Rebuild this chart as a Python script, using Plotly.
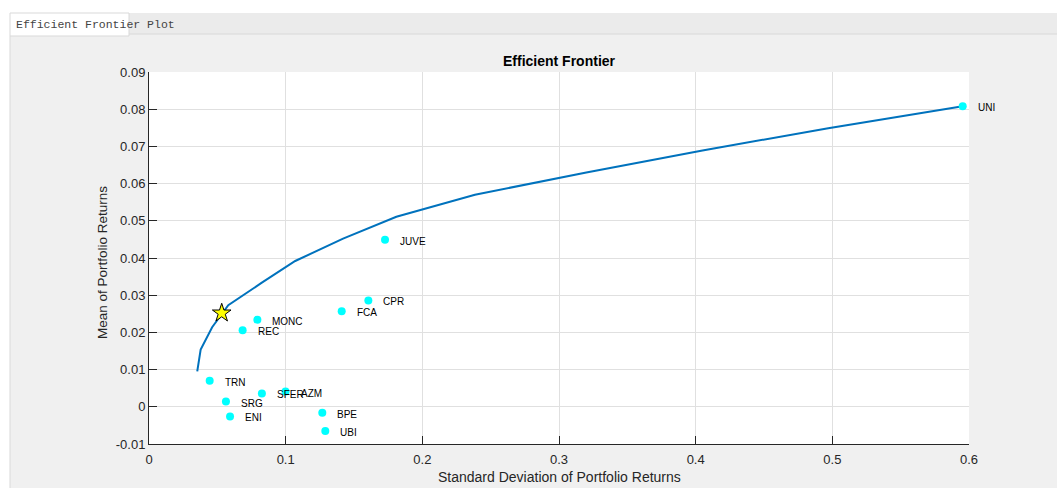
import plotly.graph_objects as go

# Asset statistics: standard deviation and mean of returns
assets = ["UNI", "JUVE", "CPR", "FCA", "MONC", "REC", "TRN", "SFER", "AZM", "SRG", "ENI", "BPE", "UBI"]
asset_risk = [0.5954, 0.1727, 0.1605, 0.1410, 0.0793, 0.0685, 0.0444, 0.0826, 0.0999, 0.0563, 0.0593, 0.1268, 0.1290]
asset_return = [0.0808, 0.0449, 0.0286, 0.0257, 0.0234, 0.0206, 0.0070, 0.0036, 0.0041, 0.0014, -0.0026, -0.0016, -0.0065]

# Efficient frontier portfolios
frontier_risk = [0.0353, 0.0378, 0.0462, 0.0580, 0.0823, 0.1070, 0.1420, 0.1810, 0.2385, 0.3200, 0.4050, 0.4970, 0.5954]
frontier_return = [0.0095, 0.0154, 0.0214, 0.0273, 0.0333, 0.0392, 0.0452, 0.0511, 0.0570, 0.0630, 0.0689, 0.0749, 0.0808]

# Highlighted portfolio
chosen_risk = [0.0532]
chosen_return = [0.0252]

x_ticks = [0, 0.1, 0.2, 0.3, 0.4, 0.5, 0.6]
x_tick_labels = ["0", "0.1", "0.2", "0.3", "0.4", "0.5", "0.6"]
y_ticks = [-0.01, 0, 0.01, 0.02, 0.03, 0.04, 0.05, 0.06, 0.07, 0.08, 0.09]
y_tick_labels = ["-0.01", "0", "0.01", "0.02", "0.03", "0.04", "0.05", "0.06", "0.07", "0.08", "0.09"]

W, H = 1057, 488
L, R, T, B = 149, 969, 72, 444  # plot area in pixels
PW, PH = R - L, B - T


def px(x):
    return (x - L) / PW


def py(y):
    return (B - y) / PH


FONT = "Arial, Liberation Sans, Helvetica, sans-serif"
AX = "#262626"

fig = go.Figure()

fig.add_trace(go.Scatter(
    x=frontier_risk, y=frontier_return, mode="lines",
    line=dict(color="#0072BD", width=2), hoverinfo="skip", showlegend=False,
))
fig.add_trace(go.Scatter(
    x=asset_risk, y=asset_return, mode="markers",
    marker=dict(color="#00FFFF", size=8, line=dict(width=0)),
    showlegend=False, cliponaxis=False,
))
fig.add_trace(go.Scatter(
    x=chosen_risk, y=chosen_return, mode="markers",
    marker=dict(symbol="star", color="#FFFF00", size=14, line=dict(color="black", width=1)),
    showlegend=False,
))

annotations = []
for name, xr, yr in zip(assets, asset_risk, asset_return):
    annotations.append(dict(
        x=xr, y=yr, xref="x", yref="y", text=name, showarrow=False,
        xanchor="left", yanchor="middle", xshift=13, yshift=-1.5,
        font=dict(family=FONT, size=10, color="#000000"),
    ))

annotations += [
    dict(x=0.5, y=py(61), xref="paper", yref="paper", text="<b>Efficient Frontier</b>",
         showarrow=False, xanchor="center", yanchor="middle",
         font=dict(family=FONT, size=14, color="#000000")),
    dict(x=0.5, y=py(477), xref="paper", yref="paper", text="Standard Deviation of Portfolio Returns",
         showarrow=False, xanchor="center", yanchor="middle",
         font=dict(family=FONT, size=14, color=AX)),
    dict(x=px(102), y=py(263), xref="paper", yref="paper", text="Mean of Portfolio Returns",
         showarrow=False, xanchor="center", yanchor="middle", textangle=-90,
         font=dict(family=FONT, size=13.5, color=AX)),
    dict(x=px(14), y=py(25), xref="paper", yref="paper", text="Efficient Frontier Plot",
         showarrow=False, xanchor="left", yanchor="middle",
         font=dict(family="Liberation Mono, Courier New, monospace", size=11.5, color="#444444")),
]

shapes = [
    # white strip along the top and left of the window
    dict(type="rect", xref="paper", yref="paper", x0=px(0), x1=px(W), y0=py(0), y1=py(13),
         fillcolor="white", line=dict(width=0), layer="below"),
    dict(type="rect", xref="paper", yref="paper", x0=px(0), x1=px(10), y0=py(13), y1=py(H),
         fillcolor="white", line=dict(width=0), layer="below"),
    # tab strip
    dict(type="rect", xref="paper", yref="paper", x0=px(10), x1=px(W), y0=py(13), y1=py(34),
         fillcolor="#ebebeb", line=dict(width=0), layer="below"),
    dict(type="line", xref="paper", yref="paper", x0=px(10), x1=px(W), y0=py(34), y1=py(34),
         line=dict(color="#d8d8d8", width=1), layer="below"),
    dict(type="rect", xref="paper", yref="paper", x0=px(10), x1=px(129), y0=py(13), y1=py(36),
         fillcolor="white", line=dict(color="#d9d9d9", width=1), layer="below"),
    dict(type="line", xref="paper", yref="paper", x0=px(10), x1=px(10), y0=py(36), y1=py(H),
         line=dict(color="#d9d9d9", width=1), layer="below"),
]

axis_common = dict(
    showgrid=True, gridcolor="#e0e0e0", gridwidth=1, zeroline=False,
    showline=True, linecolor=AX, linewidth=1,
    ticks="inside", ticklen=8, tickwidth=1, tickcolor=AX,
    tickfont=dict(family=FONT, size=13, color=AX),
)

fig.update_layout(
    width=W, height=H,
    margin=dict(l=L, r=W - R, t=T, b=H - B, pad=0),
    paper_bgcolor="#f0f0f0", plot_bgcolor="white",
    xaxis=dict(range=[0, 0.6], tickvals=x_ticks, ticktext=x_tick_labels,
               ticklabelstandoff=3, **axis_common),
    yaxis=dict(range=[-0.01, 0.09], tickvals=y_ticks, ticktext=y_tick_labels, **axis_common),
    annotations=annotations, shapes=shapes, showlegend=False,
)

fig.write_html("out.html")
